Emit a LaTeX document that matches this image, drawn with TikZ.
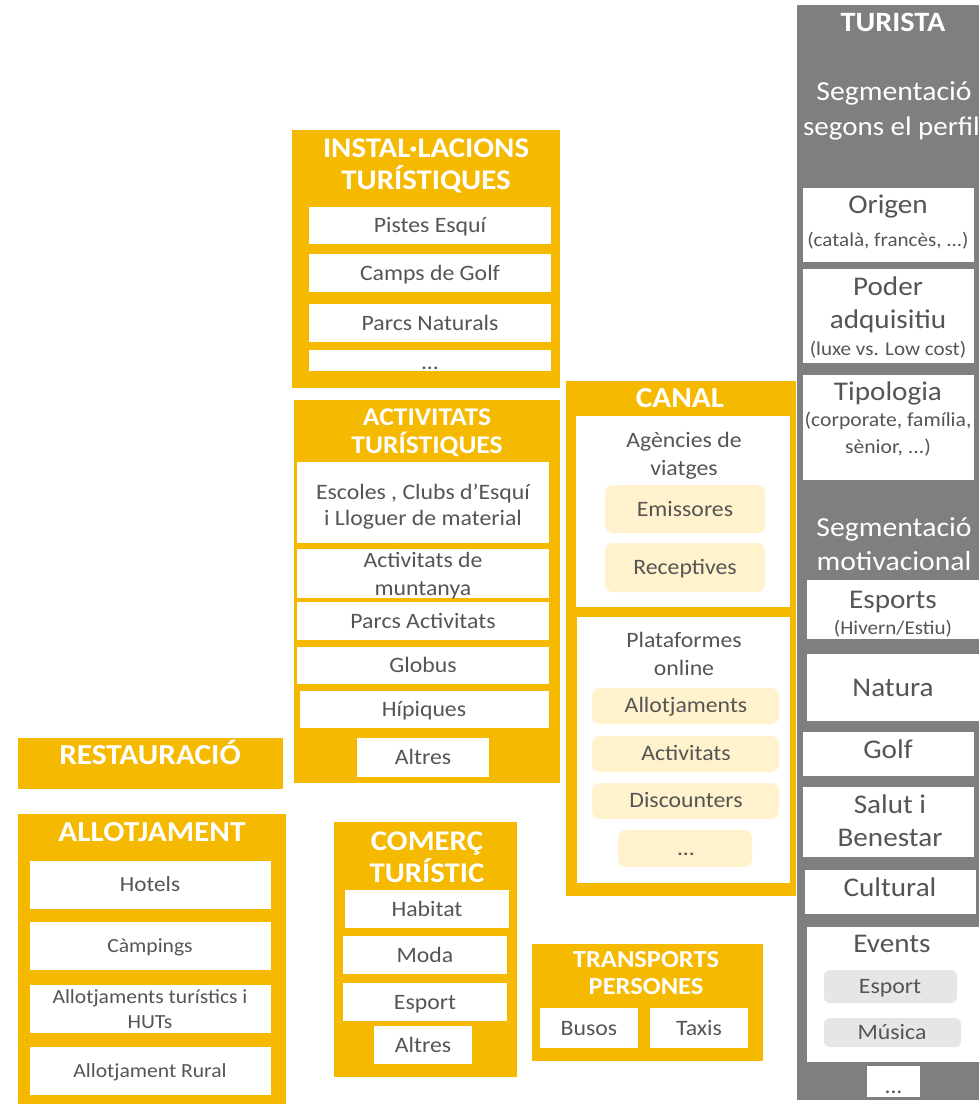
\documentclass[tikz,border=0pt]{standalone}
\usepackage{fontspec}
\setmainfont{Carlito}[FakeStretch=1.08]
\definecolor{yel}{HTML}{F5BA00}
\definecolor{gry}{HTML}{7F7F7F}
\definecolor{txtc}{HTML}{555555}
\definecolor{pill}{HTML}{FFF2CC}
\definecolor{pillg}{HTML}{E7E6E6}
\newcommand\R[6]{\node[#2, inner sep=0pt, outer sep=0pt, minimum width={(#5-#3)*1pt}, minimum height={(#6-#4)*1pt}] (#1) at ({(#3+#5)/2},{(#4+#6)/2}) {};}
\newcommand\T[6]{\node[anchor=base, inner sep=0pt, outer sep=0pt, font=\fontsize{#4}{#4}\selectfont, #5] (#1) at (#2,{#3+0.32*#4}) {#6};}
\tikzset{
  ybox/.style={fill=yel},
  wbox/.style={fill=white},
  gbox/.style={fill=gry},
  ypill/.style={fill=pill, rounded corners=8pt},
  gpill/.style={fill=pillg, rounded corners=6pt},
  ttl/.style={text=white},
  lbl/.style={text=txtc},
}
\begin{document}
\begin{tikzpicture}[x=1pt,y=-1pt]
\fill[white] (0,0) rectangle (978,1105);
\useasboundingbox (0,0) rectangle (978,1105);

% INSTAL.LACIONS TURISTIQUES
\R{inst}{ybox}{292}{130}{560}{388}
\T{instA}{426}{148}{28.5}{ttl}{\bfseries INSTAL·LACIONS}
\T{instB}{426}{180}{28.5}{ttl}{\bfseries TURÍSTIQUES}
\R{i1}{wbox}{309}{207}{551}{244}
\T{i1t}{430}{225.5}{22}{lbl}{Pistes Esquí}
\R{i2}{wbox}{309}{254}{551}{292}
\T{i2t}{430}{273}{22}{lbl}{Camps de Golf}
\R{i3}{wbox}{309}{304}{551}{342}
\T{i3t}{430}{323}{22}{lbl}{Parcs Naturals}
\R{i4}{wbox}{309}{350}{551}{371}
\node[anchor=base, inner sep=0pt, font=\fontsize{22}{22}\selectfont, lbl] (i4t) at (430,369) {...};

% ACTIVITATS TURISTIQUES
\R{act}{ybox}{294}{400}{560}{783}
\T{actA}{427}{417}{25.5}{ttl}{\bfseries ACTIVITATS}
\T{actB}{427}{445}{25.5}{ttl}{\bfseries TURÍSTIQUES}
\R{a1}{wbox}{297}{462}{549}{543}
\T{a1t}{423}{492}{22}{lbl}{Escoles , Clubs d’Esquí}
\T{a1u}{423}{518}{22}{lbl}{i Lloguer de material}
\R{a2}{wbox}{297}{549}{549}{598}
\T{a2t}{423}{560}{22}{lbl}{Activitats de}
\T{a2u}{423}{588}{22}{lbl}{muntanya}
\R{a3}{wbox}{297}{602}{549}{640}
\T{a3t}{423}{621}{22}{lbl}{Parcs Activitats}
\R{a4}{wbox}{297}{647}{549}{684}
\T{a4t}{423}{665.5}{22}{lbl}{Globus}
\R{a5}{wbox}{300}{691}{549}{728}
\T{a5t}{424}{709.5}{22}{lbl}{Hípiques}
\R{a6}{wbox}{357}{738}{489}{777}
\T{a6t}{423}{757.5}{22}{lbl}{Altres}

% CANAL
\R{can}{ybox}{566}{381}{796}{896}
\T{canA}{680}{398}{29}{ttl}{\bfseries CANAL}
\R{c1}{wbox}{576}{416}{790}{607}
\T{c1a}{684}{440}{22}{lbl}{Agències de}
\T{c1b}{684}{468}{22}{lbl}{viatges}
\R{c1p1}{ypill}{605}{485}{765}{533}
\T{c1p1t}{685}{509}{22}{lbl}{Emissores}
\R{c1p2}{ypill}{605}{543}{765}{592}
\T{c1p2t}{685}{567.5}{22}{lbl}{Receptives}
\R{c2}{wbox}{577}{617}{790}{883}
\T{c2a}{684}{640}{22}{lbl}{Plataformes}
\T{c2b}{684}{668}{22}{lbl}{online}
\R{c2p1}{ypill}{592}{688}{779}{724}
\T{c2p1t}{686}{705}{22}{lbl}{Allotjaments}
\R{c2p2}{ypill}{592}{736}{779}{772}
\T{c2p2t}{686}{753}{22}{lbl}{Activitats}
\R{c2p3}{ypill}{592}{783}{779}{819}
\T{c2p3t}{686}{800}{22}{lbl}{Discounters}
\R{c2p4}{ypill}{618}{830}{752}{867}
\node[anchor=base, inner sep=0pt, font=\fontsize{22}{22}\selectfont, lbl] (c2p4t) at (686,855) {...};

% TURISTA column
\R{tur}{gbox}{797}{5}{990}{1100}
\T{turA}{893}{23}{28}{ttl}{\bfseries TURISTA}
\T{turB}{894}{92}{27.5}{ttl}{Segmentació}
\T{turC}{891.5}{127}{26.8}{ttl}{segons el perfil}
\R{t1}{wbox}{803}{188}{974}{262}
\T{t1a}{888}{205}{27}{lbl}{Origen}
\T{t1b}{888}{240}{19.5}{lbl}{(català, francès, ...)}
\R{t2}{wbox}{803}{269}{974}{363}
\T{t2a}{888}{287}{27}{lbl}{Poder}
\T{t2b}{888}{320}{27}{lbl}{adquisitiu}
\T{t2c}{888}{349}{19.5}{lbl}{(luxe vs. Low cost)}
\R{t3}{wbox}{803}{375}{974}{480}
\T{t3a}{888}{392}{27}{lbl}{Tipologia}
\T{t3b}{888}{420}{20}{lbl}{(corporate, família,}
\T{t3c}{888}{447}{20}{lbl}{sènior, ...)}
\T{turD}{894}{528}{27.5}{ttl}{Segmentació}
\T{turE}{894}{562}{27.5}{ttl}{motivacional}
\R{t4}{wbox}{807}{580}{985}{639}
\T{t4a}{893}{600}{27}{lbl}{Esports}
\T{t4b}{893}{628}{19.5}{lbl}{(Hivern/Estiu)}
\R{t5}{wbox}{807}{654}{985}{721}
\T{t5a}{893}{688}{27}{lbl}{Natura}
\R{t6}{wbox}{803}{732}{974}{776}
\T{t6a}{888}{750}{27}{lbl}{Golf}
\R{t7}{wbox}{803}{787}{974}{857}
\T{t7a}{890}{805}{27}{lbl}{Salut i}
\T{t7b}{890}{838}{27}{lbl}{Benestar}
\R{t8}{wbox}{805}{870}{976}{914}
\T{t8a}{890}{888}{27}{lbl}{Cultural}
\R{t9}{wbox}{807}{927}{985}{1062}
\T{t9a}{892}{944}{27}{lbl}{Events}
\R{t9p1}{gpill}{824}{970}{957}{1003}
\T{t9p1t}{890}{986.5}{22}{lbl}{Esport}
\R{t9p2}{gpill}{824}{1018}{961}{1047}
\T{t9p2t}{892}{1032.5}{22}{lbl}{Música}
\R{t10}{wbox}{867}{1066}{920}{1097}
\node[anchor=base, inner sep=0pt, font=\fontsize{22}{22}\selectfont, lbl] (t10t) at (893.5,1093) {...};

% RESTAURACIO
\R{rest}{ybox}{18}{738}{283}{789}
\T{restA}{150}{755}{29}{ttl}{\bfseries RESTAURACIÓ}

% ALLOTJAMENT
\R{allo}{ybox}{18}{814}{286}{1104}
\T{alloA}{152}{832}{29}{ttl}{\bfseries ALLOTJAMENT}
\R{l1}{wbox}{30}{861}{271}{909}
\T{l1t}{150}{885}{21.5}{lbl}{Hotels}
\R{l2}{wbox}{30}{922}{271}{970}
\T{l2t}{150}{946}{20}{lbl}{Càmpings}
\R{l3}{wbox}{30}{985}{271}{1033}
\T{l3a}{150}{997}{20}{lbl}{Allotjaments turístics i}
\T{l3b}{150}{1022}{20}{lbl}{HUTs}
\R{l4}{wbox}{30}{1047}{271}{1095}
\T{l4t}{150}{1071}{20}{lbl}{Allotjament Rural}

% COMERC TURISTIC
\R{com}{ybox}{334}{822}{517}{1077}
\T{comA}{427}{841}{28.5}{ttl}{\bfseries COMERÇ}
\T{comB}{427}{873}{28.5}{ttl}{\bfseries TURÍSTIC}
\R{m1}{wbox}{345}{890}{509}{928}
\T{m1t}{427}{909}{22}{lbl}{Habitat}
\R{m2}{wbox}{343}{936}{507}{974}
\T{m2t}{425}{955}{22}{lbl}{Moda}
\R{m3}{wbox}{343}{983}{507}{1021}
\T{m3t}{425}{1002}{22}{lbl}{Esport}
\R{m4}{wbox}{374}{1026}{472}{1064}
\T{m4t}{423}{1045}{22}{lbl}{Altres}

% TRANSPORTS PERSONES
\R{tra}{ybox}{532}{944}{763}{1061}
\T{traA}{646}{960}{24.5}{ttl}{\bfseries TRANSPORTS}
\T{traB}{646}{987}{24.5}{ttl}{\bfseries PERSONES}
\R{p1}{wbox}{540}{1008}{638}{1048}
\T{p1t}{589}{1028}{22}{lbl}{Busos}
\R{p2}{wbox}{650}{1008}{748}{1048}
\T{p2t}{699}{1028}{22}{lbl}{Taxis}
\end{tikzpicture}
\end{document}
